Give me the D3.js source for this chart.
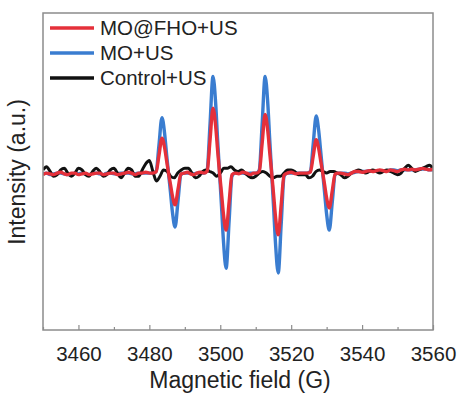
<!DOCTYPE html>
<html><head><meta charset="utf-8">
<script src="https://cdn.jsdelivr.net/npm/d3@7"></script>
<style>
html,body{margin:0;padding:0;background:#fff;}
svg{display:block;font-family:"Liberation Sans",Arial,sans-serif;}
</style></head>
<body><svg id="c" width="461" height="394"></svg>
<script>
// ---------- data ----------
const seriesNames = ["MO@FHO+US", "MO+US", "Control+US"];
const xTicks = [3460, 3480, 3500, 3520, 3540, 3560];
const xLabel = "Magnetic field (G)";
const yLabel = "Intensity (a.u.)";

// field positions (G) for MO@FHO+US and MO+US spectra
const fieldUS = [
 3450,3451,3452,3453,3454,3455,3456,3457,3458,3459,3460,3461,3462,3463,3464,3465,3466,3467,3468,3469,
 3470,3471,3472,3473,3474,3475,3476,3477,3478,3479,3480,
 3481.0,3481.9,3482.7,3483.55,3484.3,3484.85,3485.4,3485.95,3486.5,3487.25,3488.1,3488.9,3489.8,
 3490.7,3491.6,3492.5,3493.4,3494.4,
 3495.4,3496.3,3497.1,3497.95,3498.7,3499.25,3499.8,3500.35,3500.9,3501.65,3502.5,3503.3,3504.2,
 3505.2,3506.3,3507.4,3508.5,3509.4,
 3510.1,3511.0,3511.8,3512.65,3513.4,3513.95,3514.5,3515.05,3515.6,3516.35,3517.2,3518.0,3518.9,
 3520.0,3521.3,3522.5,3523.6,
 3524.5,3525.4,3526.2,3527.05,3527.8,3528.35,3528.9,3529.45,3530.0,3530.75,3531.6,3532.4,3533.3,
 3534,3535,3536,3537,3538,3539,3540,3541,3542,3543,3544,3545,3546,3547,3548,3549,3550,3551,3552,3553,
 3554,3555,3556,3557,3558,3559,3560
];
const moFhoUS = [
 -2,-1,-1.5,-2,-1,-0.5,-1.5,-2,-1,-1,-2,-1.5,-1,-2,-1.5,-1,-1,-2,-1.5,-1,
 -1,-2,-1.5,-1,-0.5,-1,-2,-1,-1,-0.5,-1,
 -1,-0.3,10,21,15,7,-1,-8,-15.4,-21,-11,-1.6,-1,
 -0.5,-1.5,-2,-1,-0.5,
 -1,0.2,19.5,40,28.5,13.4,-1,-13.6,-27,-37,-19,-2,-1,
 -1.5,-0.5,-1,-2,-1,
 -1,0.1,17.5,36,25.6,12,-1,-14.7,-29,-40,-20.5,-2.2,-1,
 -0.5,-1.5,-1,-1,
 -1,-0.4,9.5,20,14,6.4,-1,-8.7,-16.8,-23,-12,-1.7,-1,
 -1,-1.5,-2,-1,0,0,-0.5,0,0.5,0,0.5,1,0.5,0,1,0.5,0,1,1.5,1,
 1.5,1,1.5,2,1.5,1,1.5
];
const moUS = [
 -1.5,-1,-2,-1.5,-1,-1,-1.5,-2,-1.5,-1,-1.5,-1,-1.5,-2,-1,-1,-1.5,-2,-1,-1,
 -1.5,-1.5,-1,-1,-1,-1.5,-1.5,-1,-1,-1,-1,
 -1,0,16.5,34,24,11,-1,-13,-25.5,-35,-18,-2,-1,
 -1,-1,-1.5,-1,-1,
 -1,1,29.5,60,43,20,-1,-22,-44,-61,-31,-3,-1,
 -1,-1,-1.5,-1,-1,
 -1,1,29.5,60,43,20,-1,-23,-46,-64,-32.5,-3,-1,
 -1,-1,-1,-1,
 -1,0,17,35,25,12,-1,-14,-27,-37,-19,-2,-1,
 -1,-1,-1.5,-1,-0.5,0,0,0,0.5,0.5,0.5,0.5,0.5,0.5,1,1,0.5,1,1,1,
 1,1,1.5,1.5,1.5,1,1
];
// field positions (G) for Control+US spectrum
const fieldControl = d3.range(3450, 3561, 1);
const controlUS = [
 1,3,0,-3,-2,1,2,-1,-3,-1,2,1,-2,-3,0,2,0,-3,-2,1,
 2,-1,-4,-1,2,1,-3,-3,1,5,7,0,-6,-3,1,0,-3,-4,-1,1,
 2,2,-1,-4,-3,0,1,0,-1,-3,-1,2,2,3,1,0,1,-1,-3,-4,
 -3,-1,0,-1,-3,-4,-3,-3,-1,1,1,0,-2,-2,-2,-4,-3,0,1,0,
 -1,0,0,-1,-2,-4,-3,-1,0,1,0,-1,0,1,0,-1,0,1,0,-1,
 -2,-1,2,4,2,0,1,2,3,4,2
];

// ---------- chart ----------
const svg = d3.select("#c");
const m = {l: 43, r: 433, t: 13, b: 330};
const x = d3.scaleLinear().domain([3450, 3560]).range([m.l, m.r]);
const y = d3.scaleLinear().domain([-100, 100]).range([m.b, m.t]);

const colors = {"MO@FHO+US": "#e5303a", "MO+US": "#3a7dd0", "Control+US": "#111111"};

const line = d3.line().x(d => x(d[0])).y(d => y(d[1])).curve(d3.curveMonotoneX);
const g = svg.append("g");
const clipId = "clipPlot";
svg.append("defs").append("clipPath").attr("id", clipId)
  .append("rect").attr("x", m.l).attr("y", m.t).attr("width", m.r - m.l).attr("height", m.b - m.t);

const plot = g.append("g").attr("clip-path", `url(#${clipId})`);
const blueData = fieldUS.map((f, i) => [f, moUS[i]]);
const redData = fieldUS.map((f, i) => [f, moFhoUS[i]]);
const blackData = fieldControl.map((f, i) => [f, controlUS[i]]);

plot.append("path").datum(blueData).attr("d", line)
  .attr("fill", "none").attr("stroke", colors["MO+US"]).attr("stroke-width", 3.4).attr("stroke-linejoin", "round");
plot.append("path").datum(blackData).attr("d", line)
  .attr("fill", "none").attr("stroke", colors["Control+US"]).attr("stroke-width", 3).attr("stroke-linejoin", "round");
plot.append("path").datum(redData).attr("d", line)
  .attr("fill", "none").attr("stroke", colors["MO@FHO+US"]).attr("stroke-width", 3.4).attr("stroke-linejoin", "round");

// frame
const frameColor = "#8c8c8c";
g.append("rect").attr("x", m.l).attr("y", m.t).attr("width", m.r - m.l).attr("height", m.b - m.t)
  .attr("fill", "none").attr("stroke", frameColor).attr("stroke-width", 1.5);

// x axis
const xAxis = d3.axisBottom(x).tickValues(xTicks).tickFormat(d3.format("d")).tickSizeInner(-5).tickSizeOuter(0).tickPadding(16);
const ax = g.append("g").attr("transform", `translate(0,${m.b})`).call(xAxis);
ax.select(".domain").remove();
ax.selectAll(".tick line").attr("stroke", frameColor).attr("stroke-width", 1.2);
ax.selectAll(".tick text").attr("font-size", 20.5).attr("fill", "#222").attr("font-family", "Liberation Sans, Arial, sans-serif");
const minor = d3.axisBottom(x).tickValues(d3.range(3450, 3561, 10).filter(v => !xTicks.includes(v))).tickSizeInner(-3).tickSizeOuter(0).tickFormat("");
const mx = g.append("g").attr("transform", `translate(0,${m.b})`).call(minor);
mx.select(".domain").remove();
mx.selectAll(".tick line").attr("stroke", frameColor).attr("stroke-width", 1.2);

// axis titles
g.append("text").attr("x", 240).attr("y", 388).attr("text-anchor", "middle")
  .attr("font-size", 23).attr("fill", "#222").text(xLabel);
g.append("text").attr("transform", "translate(25,172) rotate(-90)").attr("text-anchor", "middle")
  .attr("font-size", 23).attr("fill", "#222").text(yLabel);

// legend
const lg = g.append("g");
const legendY = [28, 53, 78];
seriesNames.forEach((name, i) => {
  lg.append("line").attr("x1", 50).attr("x2", 94).attr("y1", legendY[i]).attr("y2", legendY[i])
    .attr("stroke", colors[name]).attr("stroke-width", 3.5);
  lg.append("text").attr("x", 100).attr("y", legendY[i] + 7).attr("font-size", 20.5).attr("fill", "#222").text(name);
});
</script></body></html>
